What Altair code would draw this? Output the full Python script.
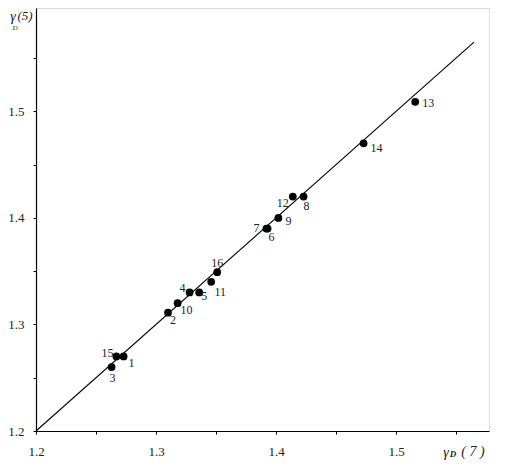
import altair as alt
import pandas as pd

# Data
ids = ["1", "2", "3", "4", "5", "6", "7", "8", "9", "10", "11", "12", "13", "14", "15", "16"]
gamma7 = [1.273, 1.310, 1.263, 1.328, 1.336, 1.393, 1.392, 1.423, 1.402, 1.318, 1.346, 1.414, 1.516, 1.473, 1.267, 1.351]
gamma5 = [1.270, 1.311, 1.260, 1.330, 1.330, 1.390, 1.390, 1.420, 1.400, 1.320, 1.340, 1.420, 1.509, 1.470, 1.270, 1.349]
line_x = [1.2, 1.565]
line_y = [1.2, 1.565]
tick_values = [1.2, 1.25, 1.3, 1.35, 1.4, 1.45, 1.5, 1.55]

# label offsets (pixels) for each point label
label_dx = [8, 5, 1, -7, 5, 4, -10, 3, 10, 9, 9, -10, 13, 13, -9, 0]
label_dy = [7, 7, 11, -4, 4, 8, -1, 9, 3, 7, 10, 6, 1, 5, -3, -9]

pts = pd.DataFrame({"id": ids, "x": gamma7, "y": gamma5})
ln = pd.DataFrame({"x": line_x, "y": line_y})

SERIF = "Liberation Serif"
label_expr = "abs(datum.value*10 - round(datum.value*10)) < 0.01 ? format(datum.value, '.1f') : ''"

xscale = alt.Scale(domain=[1.2, 1.5775], nice=False, zero=False)
yscale = alt.Scale(domain=[1.2, 1.597], nice=False, zero=False)

xaxis = alt.Axis(values=tick_values, labelExpr=label_expr, title=None, grid=False,
                 domainColor="black", domainWidth=1.2, tickColor="black", tickSize=3,
                 labelFont=SERIF, labelFontSize=13, labelColor="#222", labelPadding=11,
                 labelFlush=False)
yaxis = alt.Axis(values=tick_values, labelExpr=label_expr, title=None, grid=False,
                 domainColor="black", domainWidth=1.2, tickColor="black", tickSize=3,
                 labelFont=SERIF, labelFontSize=13, labelColor="#222", labelPadding=9,
                 labelFlush=False)

line = alt.Chart(ln).mark_line(color="black", strokeWidth=1.1, clip=False).encode(
    x=alt.X("x:Q", scale=xscale, axis=xaxis),
    y=alt.Y("y:Q", scale=yscale, axis=yaxis),
)

points = alt.Chart(pts).mark_circle(color="black", opacity=1, size=60).encode(
    x=alt.X("x:Q", scale=xscale),
    y=alt.Y("y:Q", scale=yscale),
)

label_layers = []
for i, pid in enumerate(ids):
    sub = pts[pts["id"] == pid]
    label_layers.append(
        alt.Chart(sub).mark_text(font=SERIF, fontSize=12, color="#222",
                                 dx=label_dx[i], dy=label_dy[i],
                                 align="center", baseline="middle").encode(
            x=alt.X("x:Q", scale=xscale),
            y=alt.Y("y:Q", scale=yscale),
            text="id:N",
        )
    )

def txt(s, px, py, size=12, style="italic", weight="normal"):
    return alt.Chart(pd.DataFrame({"a": [0]})).mark_text(
        font=SERIF, fontSize=size, fontStyle=style, fontWeight=weight, color="#222",
        align="center", baseline="middle").encode(
        x=alt.value(px), y=alt.value(py), text=alt.value(s))

titles = [
    # y axis title  gamma_D(5)
    txt("γ", -23, 9, 14),
    txt("D", -21, 20, 7),
    txt("(5)", -11, 8, 13),
    # x axis title  gamma_D( 7 )
    txt("γ", 410, 445, 14),
    txt("D", 417, 446, 9, weight="bold"),
    txt("( 7 )", 437, 444, 14),
]

chart = alt.layer(line, points, *label_layers, *titles).properties(
    width=453, height=423,
    autosize=alt.AutoSizeParams(type="none"),
    padding={"left": 28, "top": 0, "right": 20, "bottom": 30},
).configure_view(stroke=None).configure(background="white")

chart.save("out.html", embed_options={"renderer": "svg", "actions": False})
